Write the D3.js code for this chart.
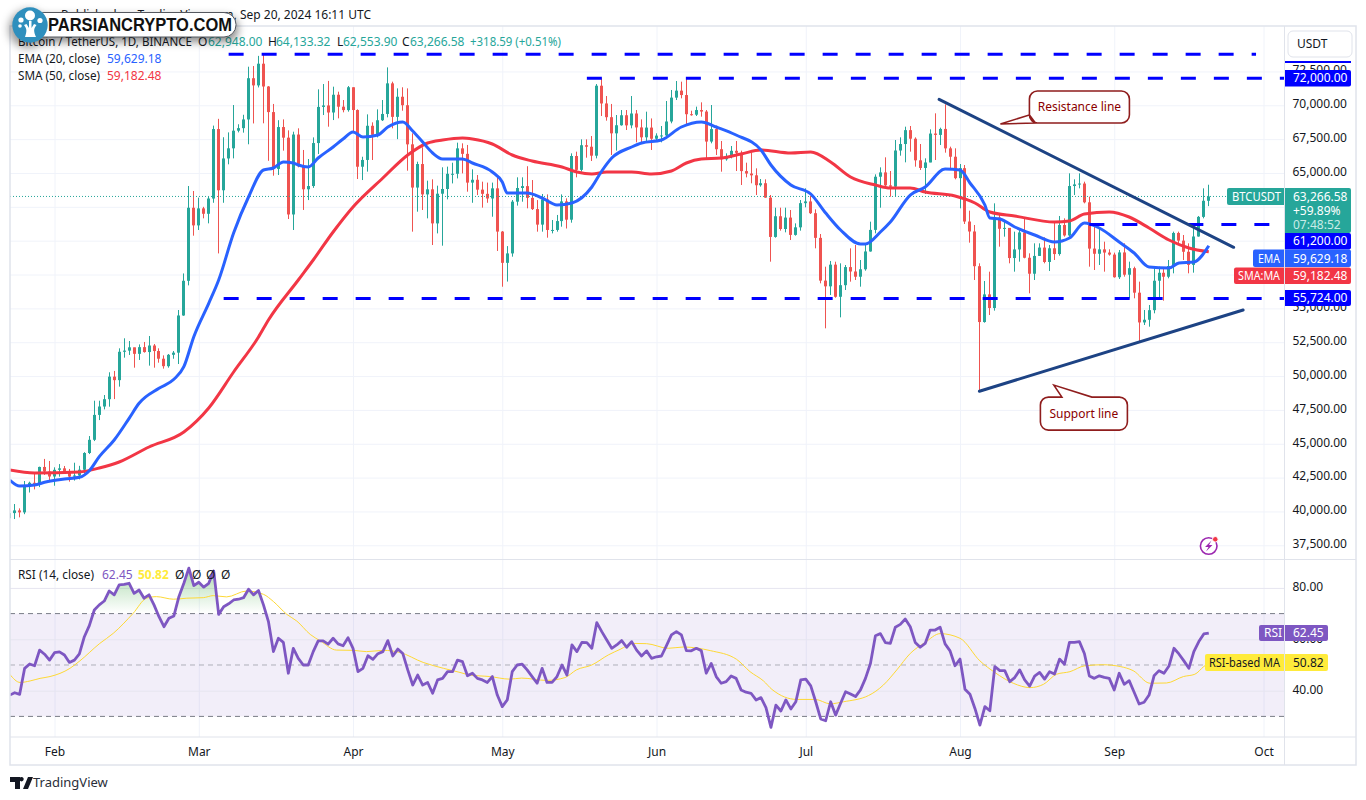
<!DOCTYPE html>
<html>
<head>
<meta charset="utf-8">
<title>BTCUSDT</title>
<script src="https://cdn.jsdelivr.net/npm/d3@7"></script>
<style>
  html, body { margin: 0; padding: 0; background: #fff; overflow: hidden; }
  svg { display: block; }
  text { font-family: "Noto Sans", sans-serif; font-size: 12px; fill: #131722; }
</style>
</head>
<body>
<svg id="chart" width="1366" height="800"></svg>
<script>
// daily candles, Jan 23 to Sep 20 2024, each open is the close before it
const firstDay = -9; // days from Feb 1
const firstOpen = 39500;
const closes = [
  39880,40077,39933,41816,42120,42035,43288,42952,42582,
  43075,43185,42992,42576,42658,43084,44318,45293,47132,47751,48293,49958,49699,51795,51880,52124,51642,52137,51774,52258,51849,51283,50731,51571,51729,54476,57037,62432,61130,
  62387,61987,63113,68245,63724,66074,66823,68124,68313,68955,72000,71470,73072,71388,69499,65300,68393,67609,61937,67840,65501,63796,64037,67211,69880,69988,69469,70780,69897,69645,71333,
  69650,65463,65963,68487,67821,68896,69360,71620,69146,70631,70006,67116,63924,65661,63419,63793,61277,63470,63818,64940,64941,66819,66414,64289,64498,63770,63461,63118,63866,60672,
  58364,59060,62882,63892,64031,63161,62334,61187,63049,60792,60793,61448,62901,61552,66256,65231,67051,66940,66278,71446,70136,69122,67929,68526,69265,68518,69394,68366,67635,68354,67530,
  67760,67773,68804,70567,71082,70757,69342,69305,69649,69538,67321,68243,66756,66011,66191,66639,66490,65140,64960,64828,64096,64245,63180,60277,61806,60864,61706,60427,60986,62772,
  62900,62031,60208,57050,56628,58230,55857,56714,58050,57725,57339,57889,59204,60797,64724,65043,64087,63987,66660,67139,68165,67532,65936,65372,65777,67912,67813,68255,66819,66201,64619,
  65357,61415,60680,58116,53991,56034,55027,61710,60880,60945,58719,59354,60609,58739,57560,58874,59491,58427,59438,59013,61156,60387,64037,64157,64220,62834,59415,59034,59359,59123,58973,
  57301,59132,57487,57970,56160,53962,54160,54869,57042,57631,57339,58127,60571,60005,59182,58213,60309,61759,62947,63266.58
];
const highs = [
  40100,40550,40230,42250,42200,42800,43310,43880,43730,
  43260,43500,43360,43140,43600,43370,44380,45570,48180,48180,48600,50280,50380,52050,52790,52590,52100,52340,52520,52960,52370,52050,51530,51630,51850,54880,57580,64039,63670,
  63180,62500,63250,68500,69000,67640,68000,70020,68600,69300,72850,72900,73650,73777,71420,70100,68900,68960,68150,68050,68300,66700,66033,67630,71178,71570,71800,71375,71006,70390,71425,
  71330,69700,66200,69330,68740,69700,70390,72800,71745,71250,71330,71250,67930,65835,66900,64433,64530,64063,65420,65470,65760,67240,67190,67070,65270,64850,64360,64290,64290,64730,
  60715,59600,63005,64680,64680,65500,64480,63000,63450,63420,61528,61900,63420,63128,66450,66575,67485,67485,67730,71570,71990,70685,70100,69283,69650,69650,70685,69650,68960,69530,69030,
  67930,68470,70317,71130,71794,71745,71990,69600,69900,70218,69650,70021,68495,67362,66451,66993,67362,66648,65762,66500,65344,64556,64531,63374,62438,62438,62438,62266,61280,63005,
  63866,63300,62315,60493,58080,58500,58450,58327,58204,59435,59681,58573,59681,61404,64900,65417,66156,65146,67436,67633,68421,68470,67633,67141,66082,68224,69407,68348,70071,66945,66822,
  65664,65590,62218,61159,58328,57023,57712,62759,61971,61405,60667,60667,60790,61651,59066,59805,59805,60248,59682,61400,61824,61651,64975,64532,64975,64360,63252,61036,60913,59928,59362,
  59116,59312,59805,58451,58081,56974,54881,55250,58081,58081,57958,58574,60667,60667,60421,59805,61282,61824,63867,64133.32
];
const lows = [
  38500,39440,39566,39800,41400,41630,41800,42700,42300,
  41900,42570,42800,42200,42280,42370,42800,44240,45200,46750,47540,47740,48300,49220,51360,51560,50620,51190,51730,50770,50620,50990,50550,50620,51280,50890,54450,56700,60370,
  60790,61650,61280,62800,59060,62800,65640,66080,68000,67980,67120,68660,71320,68670,65900,64800,64850,66650,61600,60790,65420,62270,63000,63900,66400,69280,68420,68910,69036,69480,69530,
  68050,64556,64480,65100,65960,67630,68840,69110,68300,67500,69600,65170,60666,62143,62266,61650,59680,60540,59630,63054,64230,64600,64970,63620,62800,63370,62440,62800,61770,59240,
  56600,56980,58820,62590,62880,62390,62266,60666,60666,60222,60540,60666,61035,60900,61330,64680,65100,66130,65885,66080,69210,68864,66330,66650,68495,68175,68300,67264,67190,67315,66700,
  67315,67264,67680,68670,70390,70514,68495,69233,69209,69160,66082,67190,66328,65097,65910,66082,65146,64112,64679,64236,63374,63990,63170,58450,60222,60740,60617,60050,60370,60740,
  62463,61970,59435,56850,53526,55988,55790,54339,56357,56973,57096,56604,57785,59188,60543,62438,63866,63251,63251,66279,65787,66575,65467,65221,63448,65787,65960,67068,66501,65295,64532,
  62390,61233,59854,57097,48972,53945,54512,54832,59558,60297,58328,57712,58451,58697,56112,57097,58869,58328,57761,58574,58894,60297,60297,63375,63867,62759,58081,57835,58205,57712,58894,
  57269,57170,57343,55743,55743,52542,53773,53650,54635,55620,55570,57220,57589,59682,58574,57589,57638,60297,61651,62553.9
];

// EMA 20 and SMA 50, days counted from Feb 1
const emaDays = [-9,-7,-4,-2,2,5,7,9,12,15,17,21,24,26,28,31,33,36,39,42,44,46,48,49,51,53,56,58,60,62,65,67,70,72,74,76,78,82,84,88,90,91,95,98,101,104,108,110,112,116,118,122,126,130,133,137,142,144,148,152,155,158,162,163,166,168,172,175,179,182,184,187,188,190,193,197,201,204,207,210,214,217,220,224,226,229,232];
const emaValues = [42324,41881,41955,42154,42398,42524,43011,44045,45279,46881,47989,49097,49762,50692,52908,55375,57096,60568,63227,65221,65369,65812,65738,65590,65443,66107,66920,67510,68027,67658,67806,68397,68766,68101,67289,66476,66033,66033,65738,65073,64334,63522,63522,63153,62636,62783,63965,65147,66107,66920,67215,67437,68397,68766,68397,67806,66698,65590,64113,63448,62045,60789,59755,59755,60641,61380,63374,63965,65295,65221,64261,62636,61676,61602,61011,60420,59903,60198,61306,60937,59903,59090,58056,57983,58352,58426,59629.18];
const smaDays = [-9,-4,5,9,13,19,26,31,36,41,43,49,52,56,60,66,71,75,78,82,84,88,92,96,102,105,108,111,116,120,124,127,130,134,138,142,148,152,156,160,165,168,172,175,181,185,188,193,201,204,207,212,216,220,224,228,232];
const smaValues = [43063,42841,42915,43211,43654,44762,45869,47642,50301,52886,54142,57096,58573,60641,62488,64630,66329,67215,67437,67584,67510,67141,66329,65886,65442,65073,64925,65073,65073,64925,65147,65738,66033,66107,66403,66698,66476,66550,65812,64704,64113,63891,63891,63596,63300,62783,62119,61823,61380,61454,61971,62119,61749,60937,60051,59460,59182.48];

// RSI 14, one value per candle
const rsiValues = [
  38.3,39.2,38.6,48.7,50.4,49.7,55.8,54.2,51.9,
  54.8,55.1,53.9,51.0,51.9,54.3,61.0,65.3,71.4,73.4,74.9,78.8,77.3,81.2,81.4,81.8,77.9,79.2,76.0,77.3,73.4,68.8,64.9,68.2,69.1,76.6,81.8,87.7,80.9,
  82.2,80.3,81.8,86.6,69.7,72.7,73.8,75.3,75.6,76.2,79.5,77.3,79.0,73.4,66.9,55.2,60.4,58.8,46.8,56.5,52.6,50.0,50.0,55.2,59.4,59.4,58.1,60.4,58.2,57.5,60.6,
  56.5,47.4,48.7,53.6,52.2,54.4,55.2,59.5,53.5,56.2,54.5,48.1,42.2,46.1,42.2,43.2,39.0,44.2,44.8,47.4,47.4,51.9,51.3,45.8,46.8,44.8,44.2,43.2,45.5,38.3,
  33.8,36.4,47.4,50.0,50.3,48.1,45.5,42.9,48.7,43.2,43.2,45.5,50.0,46.1,57.8,55.2,58.8,58.7,56.5,66.5,63.0,59.7,56.5,57.8,59.5,56.9,59.1,55.8,53.5,55.5,52.6,
  53.2,53.5,57.5,61.7,63.0,61.7,55.6,55.5,56.5,55.6,46.8,50.6,45.5,42.9,43.5,45.7,44.8,40.3,39.4,39.0,36.4,37.3,33.4,25.7,34.4,32.1,36.4,32.9,35.7,44.2,
  44.5,41.9,35.7,29.0,28.3,35.7,30.5,35.1,39.6,38.7,37.7,40.3,44.8,50.6,61.4,62.2,58.7,58.4,64.7,65.8,67.9,64.9,58.8,56.9,58.4,63.6,63.6,64.7,58.2,55.5,49.7,
  52.3,40.6,38.6,33.1,26.6,33.8,32.2,49.4,47.8,47.8,43.5,45.1,48.1,44.2,41.8,45.7,47.1,44.5,47.4,46.5,52.3,50.3,58.8,58.8,59.1,54.5,45.7,44.8,45.8,45.2,44.8,
  40.3,46.8,42.5,43.9,39.4,34.8,35.5,38.3,45.8,47.8,46.8,49.6,56.5,54.3,51.6,48.7,55.2,59.1,62.1,62.45
];
const rsiMaDays = [-9,-6.9,-4.9,-2.9,-0.9,3.1,5.1,9.1,11.8,15.8,18.5,20.5,23.9,26.6,29.9,31.9,34.6,38.6,42,44,46.7,48.7,51.4,53.4,56.7,60.1,62.7,66.1,69.4,74.1,78.2,81.5,83.5,87.5,91.5,93.9,98.9,102.6,104.9,108,111.3,113.7,116.4,119,123.4,126.4,131.8,137.1,139.8,142.5,144.2,149.2,152.9,155.9,158.6,163.6,166.6,169.3,172,175,178,182,186,189,192.7,196.1,198.8,201.4,204.1,207.1,210.8,214.2,216.8,220.2,223.5,226.9,229.2,231,232];
const rsiMaValues = [46.4,43.2,43.8,44.8,45.5,48.7,51.6,58.4,62.3,70.1,76.0,76.6,75.6,76.0,76.2,77.0,76.5,78.8,77.5,74.7,69.7,67.1,61.9,59.4,55.8,55.7,55.2,55.7,54.9,51.0,48.7,47.1,46.1,45.5,44.5,44.9,44.0,45.1,48.1,50.0,53.9,56.1,58.4,58.3,56.5,57.0,55.6,52.2,47.4,43.8,40.5,36.6,36.6,34.9,35.7,38.1,42.2,48.1,54.5,58.8,62.2,60.4,51.6,47.1,42.9,41.2,42.5,46.4,47.4,49.7,50.1,49.4,47.8,42.9,43.0,45.5,46.4,49.4,50.82];

const priceTicks = [72500,70000,67500,65000,62500,60000,57500,55000,52500,50000,47500,45000,42500,40000,37500];
const coveredTicks = [62500,60000,57500]; // sit fully under the price tags, no label
const rsiTicks = [80,60,40];
const monthFormat = d3.utcFormat('%b');

// horizontal levels: price, first day, last day
const levelPrices = [73777,72000,61200,55724];
const levelStarts = [35,107,208,34];
const levelEnds = [241.5,250,250,250];

const resistanceDays = [177.8,237], resistancePrices = [70443,59511];
const supportDays = [185.9,238.9], supportPrices = [48875,54880];

const teal = '#26a69a', red = '#ef5350', blue = '#2962ff', maRed = '#f23645',
  purple = '#7e57c2', yellow = '#ffeb3b', levelBlue = '#0000ff', grid = '#f0f3fa', border = '#e0e3eb';

const paneLeft = 10, axisX = 1284.5, paneRight = 1356;
const paneTop = 26, split = 559.5, rsiBottom = 737, paneBottom = 765;

const svg = d3.select('#chart');
const defs = svg.append('defs');
defs.append('clipPath').attr('id', 'mainClip').append('rect')
  .attr('x', paneLeft).attr('y', paneTop).attr('width', axisX - paneLeft).attr('height', split - paneTop);
defs.append('clipPath').attr('id', 'rsiClip').append('rect')
  .attr('x', paneLeft).attr('y', split).attr('width', axisX - paneLeft).attr('height', rsiBottom - split);
const grad = defs.append('linearGradient').attr('id', 'rsiOver')
  .attr('gradientUnits', 'userSpaceOnUse').attr('x1', 0).attr('x2', 0).attr('y1', 572).attr('y2', 613);
grad.append('stop').attr('offset', 0).attr('stop-color', '#4caf50').attr('stop-opacity', 0.42);
grad.append('stop').attr('offset', 1).attr('stop-color', '#4caf50').attr('stop-opacity', 0);
const soft = defs.append('filter').attr('id', 'soft').attr('x', '-20%').attr('y', '-60%').attr('width', '140%').attr('height', '240%');
soft.append('feGaussianBlur').attr('stdDeviation', 4);

const feb1 = new Date(Date.UTC(2024, 1, 1));
const at = d => new Date(+feb1 + d * 864e5);
const x = d3.scaleUtc().domain([feb1, new Date(Date.UTC(2024, 9, 1))]).range([54.5, 1263.5]);
const y = d3.scaleLinear().domain([36489, 75857]).range([559, 26]);
const yRsi = d3.scaleLinear().domain([90.86, 21.98]).range([560, 737]);
const dx = d => x(at(d));

const candles = closes.map((c, i) => ({
  day: firstDay + i,
  open: i ? closes[i - 1] : firstOpen,
  close: c, high: highs[i], low: lows[i]
}));

// grid
svg.append('g').attr('transform', `translate(${axisX},0)`)
  .call(d3.axisLeft(y).tickValues(priceTicks).tickSize(axisX - paneLeft).tickFormat(''))
  .call(g => g.select('.domain').remove())
  .call(g => g.selectAll('line').attr('stroke', grid));
svg.append('g').attr('transform', `translate(0,${rsiBottom})`)
  .call(d3.axisBottom(x).ticks(d3.utcMonth.every(1)).tickSize(paneTop - rsiBottom).tickFormat(''))
  .call(g => g.select('.domain').remove())
  .call(g => g.selectAll('line').attr('stroke', grid));

// rsi band sits under its grid lines
svg.append('rect').attr('x', paneLeft).attr('width', axisX - paneLeft)
  .attr('y', yRsi(70)).attr('height', yRsi(30) - yRsi(70)).attr('fill', purple).attr('fill-opacity', 0.1);
svg.append('g').attr('transform', `translate(${axisX},0)`)
  .call(d3.axisLeft(yRsi).tickValues(rsiTicks).tickSize(axisX - paneLeft).tickFormat(''))
  .call(g => g.select('.domain').remove())
  .call(g => g.selectAll('line').attr('stroke', '#e6e5f0'));
[70, 50, 30].forEach(v => {
  svg.append('line').attr('x1', paneLeft).attr('x2', axisX).attr('y1', yRsi(v)).attr('y2', yRsi(v))
    .attr('stroke', '#787b86').attr('stroke-opacity', v === 50 ? 0.55 : 1).attr('stroke-dasharray', '5 4');
});

// candles
const main = svg.append('g').attr('clip-path', 'url(#mainClip)');
const candle = main.append('g').selectAll('g').data(candles).join('g')
  .attr('fill', d => d.close >= d.open ? teal : red)
  .attr('stroke', d => d.close >= d.open ? teal : red);
candle.append('line')
  .attr('x1', d => Math.floor(dx(d.day)) + 0.5).attr('x2', d => Math.floor(dx(d.day)) + 0.5)
  .attr('y1', d => y(d.high)).attr('y2', d => y(d.low));
candle.append('rect').attr('stroke', 'none')
  .attr('x', d => Math.floor(dx(d.day)) - 1).attr('width', 3)
  .attr('y', d => y(Math.max(d.open, d.close)))
  .attr('height', d => Math.max(1, Math.abs(y(d.open) - y(d.close))));

// last price
main.append('line').attr('x1', paneLeft).attr('x2', axisX)
  .attr('y1', y(closes[closes.length - 1])).attr('y2', y(closes[closes.length - 1]))
  .attr('stroke', teal).attr('stroke-dasharray', '1 2');

// moving averages
const maLine = d3.line().x(d => dx(d[0])).y(d => y(d[1])).curve(d3.curveMonotoneX);
main.append('path').attr('d', maLine(smaDays.map((d, i) => [d, smaValues[i]])))
  .attr('fill', 'none').attr('stroke', maRed).attr('stroke-width', 3);
main.append('path').attr('d', maLine(emaDays.map((d, i) => [d, emaValues[i]])))
  .attr('fill', 'none').attr('stroke', blue).attr('stroke-width', 3);

// dashed levels
levelPrices.forEach((p, i) => {
  main.append('line').attr('x1', dx(levelStarts[i])).attr('x2', Math.min(dx(levelEnds[i]), axisX))
    .attr('y1', y(p)).attr('y2', y(p))
    .attr('stroke', levelBlue).attr('stroke-width', 3).attr('stroke-dasharray', '15 18');
});

// trend lines
[[resistanceDays, resistancePrices], [supportDays, supportPrices]].forEach(([ds, ps]) => {
  main.append('line').attr('x1', dx(ds[0])).attr('x2', dx(ds[1]))
    .attr('y1', y(ps[0])).attr('y2', y(ps[1]))
    .attr('stroke', '#1d4384').attr('stroke-width', 3).attr('stroke-linecap', 'round');
});

// callouts
function callout(day, price, w, h, tail, text) {
  const cx = dx(day), cy = y(price), l = cx - w / 2, r = cx + w / 2, t = cy - h / 2, b = cy + h / 2, rad = 8;
  const p = d3.path();
  p.moveTo(l + rad, t);
  if (tail.side === 'top') { p.lineTo(cx + tail.a, t); p.lineTo(cx + tail.tx, t + tail.ty); p.lineTo(cx + tail.b, t); }
  p.arcTo(r, t, r, t + rad, rad);
  p.arcTo(r, b, r - rad, b, rad);
  p.arcTo(l, b, l, b - rad, rad);
  if (tail.side === 'left') { p.lineTo(l + tail.b, b); p.lineTo(l + tail.tx, cy + tail.ty); p.lineTo(l, cy + tail.a); }
  p.lineTo(l, t + rad);
  p.arcTo(l, t, l + rad, t, rad);
  const g = svg.append('g');
  g.append('path').attr('d', p.toString()).attr('fill', '#fff').attr('stroke', '#8f1d1d').attr('stroke-width', 1.6);
  g.append('text').attr('x', cx).attr('y', cy + 4).attr('text-anchor', 'middle').style('fill', '#8b0000').text(text);
}
callout(206, 69875, 100, 32, { side: 'left', a: 8, b: 6, tx: -29, ty: 17 }, 'Resistance line');
callout(206.9, 47230, 87, 33, { side: 'top', a: -22, b: 8, tx: -30, ty: -12 }, 'Support line');

// rsi
const rsiPane = svg.append('g').attr('clip-path', 'url(#rsiClip)');
const rsiPts = rsiValues.map((v, i) => [firstDay + i, v]);
rsiPane.append('path')
  .attr('d', d3.area().x(d => dx(d[0])).y0(yRsi(70)).y1(d => yRsi(Math.max(d[1], 70)))(rsiPts))
  .attr('fill', 'url(#rsiOver)');
rsiPane.append('path')
  .attr('d', d3.line().x(d => dx(d[0])).y(d => yRsi(d[1])).curve(d3.curveMonotoneX)(rsiMaDays.map((d, i) => [d, rsiMaValues[i]])))
  .attr('fill', 'none').attr('stroke', '#fdd835').attr('stroke-width', 1);
rsiPane.append('path')
  .attr('d', d3.line().x(d => dx(d[0])).y(d => yRsi(d[1]))(rsiPts))
  .attr('fill', 'none').attr('stroke', purple).attr('stroke-width', 2.8).attr('stroke-linejoin', 'round');

// frame
svg.append('rect').attr('x', paneLeft).attr('y', paneTop).attr('width', paneRight - paneLeft).attr('height', paneBottom - paneTop)
  .attr('fill', 'none').attr('stroke', border).attr('stroke-width', 1.5);
[split, rsiBottom].forEach(v => svg.append('line').attr('x1', paneLeft).attr('x2', paneRight).attr('y1', v).attr('y2', v).attr('stroke', border));
svg.append('line').attr('x1', axisX).attr('x2', axisX).attr('y1', paneTop).attr('y2', paneBottom).attr('stroke', border);

// axes
const axisText = g => g.call(s => s.select('.domain').remove())
  .call(s => s.selectAll('text').style('font-size', '12px').style('fill', '#131722'));
const priceFormat = d3.format(',.2f');
svg.append('g').attr('transform', `translate(${axisX + 3},-1.5)`)
  .call(d3.axisRight(y).tickValues(priceTicks).tickSize(0).tickPadding(5)
    .tickFormat(v => coveredTicks.includes(v) ? '' : priceFormat(v)))
  .call(axisText);
svg.append('g').attr('transform', `translate(${axisX + 3},-1)`)
  .call(d3.axisRight(yRsi).tickValues(rsiTicks).tickSize(0).tickPadding(5).tickFormat(d3.format('.2f')))
  .call(axisText);
svg.append('g').attr('transform', `translate(0,${rsiBottom + 4})`)
  .call(d3.axisBottom(x).ticks(d3.utcMonth.every(1)).tickSize(0).tickPadding(6)
    .tickFormat(d => monthFormat(d)))
  .call(axisText);

// price axis labels
function tag(x0, x1, y0, y1, fill, roundLeft) {
  const r = 2;
  const p = d3.path();
  if (roundLeft) {
    p.moveTo(x1, y0); p.lineTo(x0 + r, y0); p.arcTo(x0, y0, x0, y0 + r, r);
    p.lineTo(x0, y1 - r); p.arcTo(x0, y1, x0 + r, y1, r); p.lineTo(x1, y1); p.closePath();
  } else {
    p.moveTo(x0, y0); p.lineTo(x1 - r, y0); p.arcTo(x1, y0, x1, y0 + r, r);
    p.lineTo(x1, y1 - r); p.arcTo(x1, y1, x1 - r, y1, r); p.lineTo(x0, y1); p.closePath();
  }
  svg.append('path').attr('d', p.toString()).attr('fill', fill);
}
function label(tx, ty, str, fill, anchor, weight, len) {
  const t = svg.append('text').attr('x', tx).attr('y', ty).attr('text-anchor', anchor || 'start')
    .style('fill', fill || '#131722').style('font-weight', weight || 400).text(str);
  if (len) t.attr('textLength', len).attr('lengthAdjust', 'spacingAndGlyphs');
  return t;
}
svg.append('rect').attr('x', 1285).attr('y', 61).attr('width', 66).attr('height', 2).attr('fill', levelBlue);
tag(1285, 1351, 70, 86.5, levelBlue); label(1293, 82, '72,000.00', '#fff');
tag(1227, 1284, 188, 205, teal, true); label(1232, 201, 'BTCUSDT', '#fff', 'start', 400, 49);
tag(1285, 1351, 188, 233, teal);
label(1293, 200.5, '63,266.58', '#fff'); label(1293, 214.5, '+59.89%', '#fff'); label(1293, 228.5, '07:48:52', '#c9ece8');
tag(1285, 1351, 233, 249.5, levelBlue); label(1293, 245, '61,200.00', '#fff');
tag(1253, 1284, 249.5, 267, blue, true); label(1258, 262.5, 'EMA', '#fff', 'start', 400, 22);
tag(1285, 1351, 249.5, 267, blue); label(1293, 262.5, '59,629.18', '#fff');
tag(1234, 1284, 267.5, 284, maRed, true); label(1238, 280, 'SMA:MA', '#fff', 'start', 400, 42);
tag(1285, 1351, 267.5, 284, maRed); label(1293, 280, '59,182.48', '#fff');
tag(1285, 1351, 290, 306, levelBlue); label(1293, 302, '55,724.00', '#fff');

tag(1259, 1284, 625, 641, purple, true); label(1264, 637, 'RSI', '#fff');
tag(1285, 1328, 625, 641, purple); label(1293, 637, '62.45', '#fff');
tag(1205, 1284, 654, 671, yellow, true); label(1209, 666.5, 'RSI-based MA', '#131722', 'start', 400, 71);
tag(1285, 1328, 654, 671, yellow); label(1293, 666.5, '50.82');

// USDT button
svg.append('rect').attr('x', 1288).attr('y', 31).attr('width', 64).attr('height', 26).attr('rx', 5)
  .attr('fill', '#fff').attr('stroke', border);
label(1297, 48, 'USDT');

// header and legends
label(371, 19, 'Published on TradingView.com, Sep 20, 2024 16:11 UTC', '#131722', 'end');
label(18, 46, 'Bitcoin / TetherUS, 1D, BINANCE', '#131722', 'start', 400, 174);
label(198, 46, 'O'); label(208, 46, '62,948.00', teal);
label(268, 46, 'H'); label(276, 46, '64,133.32', teal);
label(337, 46, 'L'); label(343, 46, '62,553.90', teal);
label(402, 46, 'C'); label(410, 46, '63,266.58', teal);
label(470, 46, '+318.59 (+0.51%)', teal, 'start', 400, 91);
label(18, 63, 'EMA (20, close)', '#131722', 'start', 400, 82); label(107, 63, '59,629.18', blue);
label(18, 80, 'SMA (50, close)', '#131722', 'start', 400, 82); label(107, 80, '59,182.48', maRed);
label(18, 579, 'RSI (14, close)', '#131722', 'start', 400, 76); label(102, 579, '62.45', purple); label(138, 579, '50.82', yellow, 'start', 700);
[175, 192, 206, 221].forEach(v => label(v, 579, 'Ø'));

// lightning badge
svg.append('circle').attr('cx', 1208.7).attr('cy', 546).attr('r', 8.3).attr('fill', '#fff').attr('stroke', '#9c27b0').attr('stroke-width', 1.6);
svg.append('path').attr('d', 'M1211.5 540.5 L1205 547 L1208.5 547 L1206 551.5 L1212.5 545 L1209 545 Z').attr('fill', '#9c27b0');
svg.append('circle').attr('cx', 1215.3).attr('cy', 539.3).attr('r', 2.8).attr('fill', '#f23645').attr('stroke', '#fff');

// tradingview mark
svg.append('path').attr('d', 'M10 777 H20 V789 H15 V782 H10 Z M21.5 777 A2.2 2.2 0 1 1 21.49 777 Z M23 789 L28 777 H33 L28 789 Z').attr('fill', '#131722');
label(33, 787, 'TradingView', '#2a2e39').style('font-size', '13px');

// site banner
svg.append('rect').attr('x', 34).attr('y', 16).attr('width', 204).attr('height', 26).attr('rx', 12)
  .attr('fill', '#000').attr('fill-opacity', 0.45).attr('filter', 'url(#soft)');
svg.append('circle').attr('cx', 28).attr('cy', 29).attr('r', 19)
  .attr('fill', '#000').attr('fill-opacity', 0.4).attr('filter', 'url(#soft)');
svg.append('rect').attr('x', 32).attr('y', 12.5).attr('width', 204).attr('height', 24.5).attr('rx', 12)
  .attr('fill', '#fff').attr('stroke', '#55585f').attr('stroke-width', 1);
svg.append('text').attr('x', 48).attr('y', 31).attr('textLength', 184).attr('lengthAdjust', 'spacingAndGlyphs')
  .style('font-family', '"Liberation Sans", sans-serif').style('font-size', '19px').style('font-weight', 700).style('fill', '#111')
  .text('PARSIANCRYPTO.COM');
svg.append('circle').attr('cx', 30).attr('cy', 25).attr('r', 17.7).attr('fill', '#2f8fbd');
svg.append('path').attr('d', 'M25 37 C27 31 27 29 24 25 L26.5 24 L29 28 L29 21 L31.5 21 L31.5 28 L34 24 L36.5 25 C33.5 29 33.5 31 36 37 Z').attr('fill', '#fff');
[[30, 15.5, 5], [21, 20, 2.6], [40, 20.5, 2.6], [20, 26, 1.8]].forEach(c => {
  svg.append('circle').attr('cx', c[0]).attr('cy', c[1]).attr('r', c[2]).attr('fill', '#fff');
});
</script>
</body>
</html>
